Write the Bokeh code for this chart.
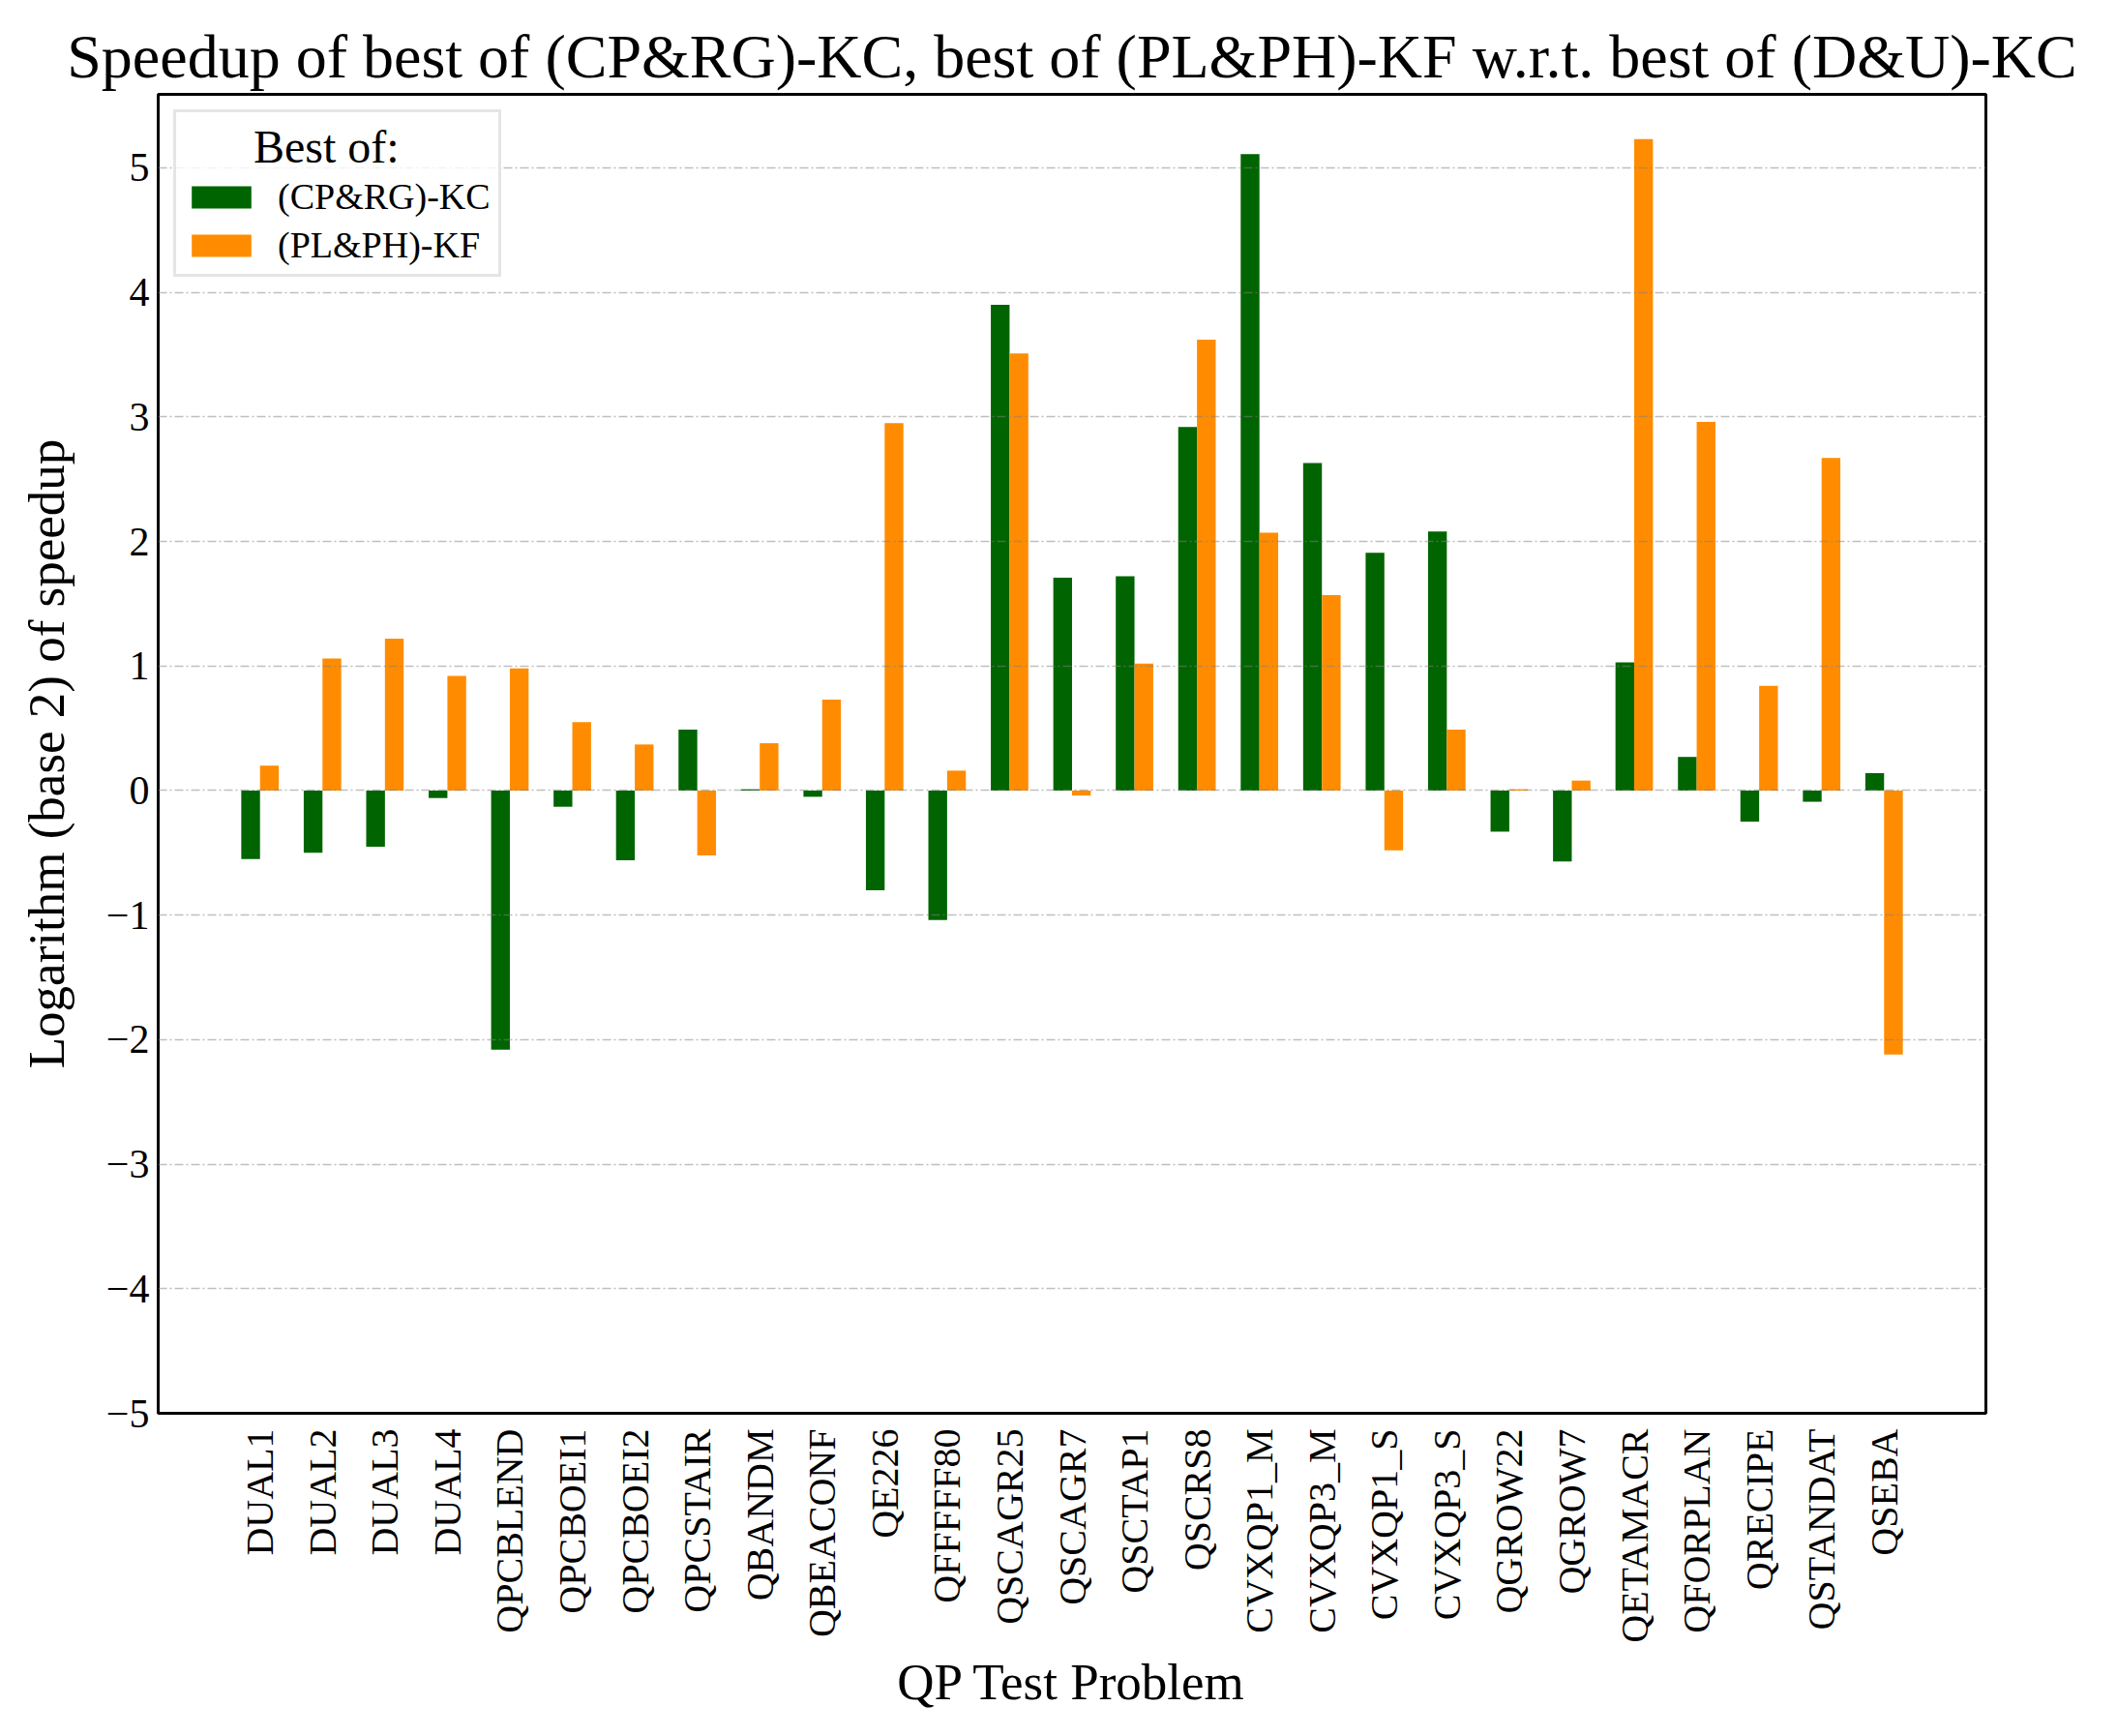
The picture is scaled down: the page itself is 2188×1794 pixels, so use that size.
import math
from bokeh.plotting import figure
from bokeh.models import ColumnDataSource, Range1d, FixedTicker, Legend, LegendItem
from bokeh.transform import dodge
from bokeh.embed import file_html
from bokeh.resources import INLINE

problems = ["DUAL1", "DUAL2", "DUAL3", "DUAL4", "QPCBLEND", "QPCBOEI1", "QPCBOEI2",
            "QPCSTAIR", "QBANDM", "QBEACONF", "QE226", "QFFFFF80", "QSCAGR25", "QSCAGR7",
            "QSCTAP1", "QSCRS8", "CVXQP1_M", "CVXQP3_M", "CVXQP1_S", "CVXQP3_S", "QGROW22",
            "QGROW7", "QETAMACR", "QFORPLAN", "QRECIPE", "QSTANDAT", "QSEBA"]
cprg_kc = [-0.55, -0.50, -0.45, -0.06, -2.08, -0.13, -0.56, 0.49, 0.01, -0.05, -0.80, -1.04,
           3.90, 1.71, 1.72, 2.92, 5.11, 2.63, 1.91, 2.08, -0.33, -0.57, 1.03, 0.27, -0.25,
           -0.09, 0.14]
plph_kf = [0.20, 1.06, 1.22, 0.92, 0.98, 0.55, 0.37, -0.52, 0.38, 0.73, 2.95, 0.16,
           3.51, -0.04, 1.02, 3.62, 2.07, 1.57, -0.48, 0.49, 0.01, 0.08, 5.23, 2.96, 0.84,
           2.67, -2.12]
y_ticks = [-5, -4, -3, -2, -1, 0, 1, 2, 3, 4, 5]
series_names = ["(CP&RG)-KC", "(PL&PH)-KF"]

FONT = "Liberation Serif"
GREEN = "#006400"
ORANGE = "#ff8c00"

idx = list(range(len(problems)))
src = ColumnDataSource(dict(idx=idx, a=cprg_kc, b=plph_kf))

p = figure(width=2172, height=1778, output_backend="svg", toolbar_location=None,
           x_range=Range1d(-1.63, 27.63), y_range=Range1d(-5, 5.59),
           min_border_left=163, min_border_right=120, min_border_top=97, min_border_bottom=318,
           title="Speedup of best of (CP&RG)-KC, best of (PL&PH)-KF w.r.t. best of (D&U)-KC")

r1 = p.vbar(x=dodge("idx", -0.15, range=p.x_range), top="a", width=0.3, source=src,
            fill_color=GREEN, line_color=None)
r2 = p.vbar(x=dodge("idx", 0.15, range=p.x_range), top="b", width=0.3, source=src,
            fill_color=ORANGE, line_color=None)

p.title.text_font = FONT
p.title.text_font_size = "64px"
p.title.text_font_style = "normal"
p.title.text_color = "black"
p.title.align = "center"
p.title.standoff = 8

p.outline_line_color = "black"
p.outline_line_width = 3
p.background_fill_color = "white"

p.xgrid.visible = False
p.ygrid.ticker = FixedTicker(ticks=y_ticks)
p.ygrid.grid_line_color = "gray"
p.ygrid.grid_line_alpha = 0.5
p.ygrid.grid_line_width = 1.5
p.ygrid.grid_line_dash = "9 3 2 3"
p.ygrid.level = "guide"

p.yaxis.ticker = FixedTicker(ticks=y_ticks)
p.yaxis.major_label_overrides = {t: (str(t).replace("-", "\u2212")) for t in y_ticks}
p.xaxis.ticker = FixedTicker(ticks=idx)
p.xaxis.major_label_overrides = {i: name for i, name in zip(idx, problems)}
p.xaxis.major_label_orientation = math.pi / 2

for ax in (p.xaxis[0], p.yaxis[0]):
    ax.axis_line_color = None
    ax.major_tick_line_color = None
    ax.minor_tick_line_color = None
    ax.major_tick_in = 0
    ax.major_tick_out = 0
    ax.major_label_text_font = FONT
    ax.major_label_text_color = "black"
    ax.axis_label_text_font = FONT
    ax.axis_label_text_font_size = "53px"
    ax.axis_label_text_font_style = "normal"
    ax.axis_label_text_color = "black"

p.xaxis.major_label_text_font_size = "40px"
p.yaxis.major_label_text_font_size = "42px"
p.xaxis.axis_label = "QP Test Problem"
p.yaxis.axis_label = "Logarithm (base 2) of speedup"
p.xaxis.major_label_standoff = 16
p.yaxis.major_label_standoff = 9
p.xaxis.axis_label_standoff = 8
p.yaxis.axis_label_standoff = 30

NB = "\u00a0"
legend = Legend(items=[LegendItem(label=series_names[0], renderers=[r1]),
                       LegendItem(label=series_names[1], renderers=[r2])],
                location="top_left", margin=16, padding=8,
                title=NB * 6 + "Best of:", title_text_font=FONT, title_text_font_size="48px",
                title_text_font_style="normal", title_text_color="black", title_standoff=2,
                label_text_font=FONT, label_text_font_size="38px", label_text_color="black",
                glyph_width=77, glyph_height=29, label_standoff=20, spacing=6,
                border_line_color="#cccccc", border_line_width=3,
                background_fill_color="white", background_fill_alpha=0.8)
p.add_layout(legend)

open("out.html", "w").write(file_html(p, INLINE))
